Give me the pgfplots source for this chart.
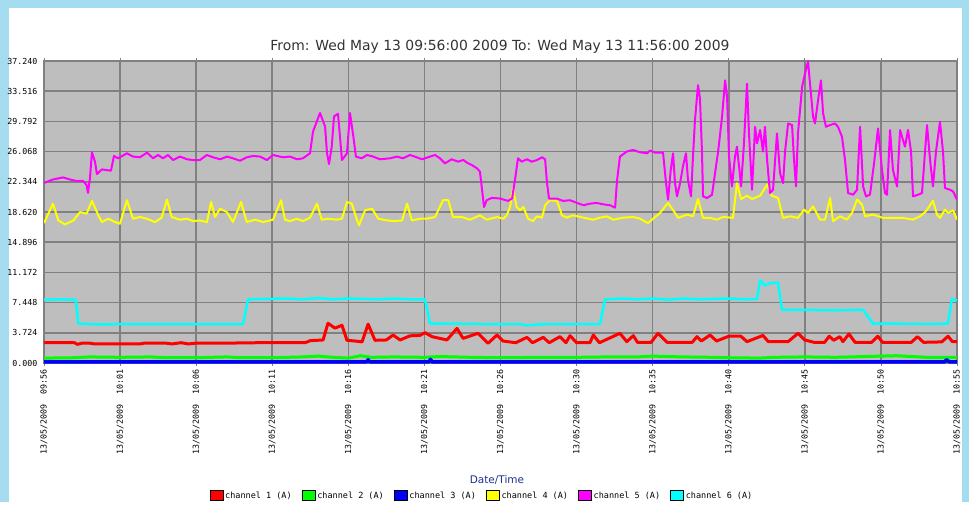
\documentclass[border=0pt]{standalone}
\usepackage{pgfplots}
\pgfplotsset{compat=1.18}
\usepackage{fontspec}
\setmainfont{DejaVu Sans}
\setmonofont{DejaVu Sans Mono}
\definecolor{bgblue}{HTML}{A6DCF0}
\definecolor{plotgray}{HTML}{BEBEBE}
\definecolor{gridgray}{HTML}{808080}
\definecolor{cred}{HTML}{FF0000}
\definecolor{cgreen}{HTML}{00FF00}
\definecolor{cblue}{HTML}{0000FF}
\definecolor{cyellow}{HTML}{FFFF00}
\definecolor{cmag}{HTML}{FF00FF}
\definecolor{ccyan}{HTML}{00FFFF}
\definecolor{navytext}{HTML}{1E3290}
\begin{document}
\begin{tikzpicture}
\fill[bgblue] (0pt,0pt) rectangle (969pt,502pt);
\fill[white] (9pt,0pt) rectangle (962pt,494pt);
\node[font=\fontsize{13.9}{16}\selectfont, text=black!80] at (500pt,455pt) {From: Wed May 13 09:56:00 2009 To: Wed May 13 11:56:00 2009};
\node[font=\fontsize{10.5}{12}\selectfont, text=navytext] at (497pt,22pt) {Date/Time};
\begin{axis}[
  at={(44pt,139pt)}, anchor=south west,
  scale only axis, width=913pt, height=302pt,
  xmin=0, xmax=60, ymin=0, ymax=37.24,
  axis background/.style={fill=plotgray},
  grid=major, major grid style={gridgray, line width=1.6pt},
  axis line style={gridgray, line width=1.6pt},
  xtick={0,5,10,15,20,25,30,35,40,45,50,55,60},
  xticklabels={13/05/2009\ \ 09:56,13/05/2009\ \ 10:01,13/05/2009\ \ 10:06,13/05/2009\ \ 10:11,13/05/2009\ \ 10:16,13/05/2009\ \ 10:21,13/05/2009\ \ 10:26,13/05/2009\ \ 10:30,13/05/2009\ \ 10:35,13/05/2009\ \ 10:40,13/05/2009\ \ 10:45,13/05/2009\ \ 10:50,13/05/2009\ \ 10:55},
  ytick={0,3.724,7.448,11.172,14.896,18.62,22.344,26.068,29.792,33.516,37.24},
  yticklabels={0.000,3.724,7.448,11.172,14.896,18.620,22.344,26.068,29.792,33.516,37.240},
  ticklabel style={font=\ttfamily\fontsize{8.3}{9}\selectfont, text=black},
  xticklabel style={rotate=90, anchor=east},
  major tick length=3pt, tick align=outside,
  ytick style={draw=none}, xtick style={gridgray, line width=0.8pt},
  legend columns=6,
  legend style={at={(0.4797,-0.4404)}, anchor=center, draw=none, fill=none,
    font=\ttfamily\fontsize{8.5}{9}\selectfont,
    /tikz/every even column/.append style={column sep=8pt}},
  legend image code/.code={\fill[#1, draw=none] (0pt,-4.5pt) rectangle (13pt,5.5pt); \draw[black,line width=0.6pt,fill=none] (0pt,-4.5pt) rectangle (13pt,5.5pt);},
  every axis plot/.append style={line join=round, mark=none},
]
% channel 1 (red)
\addplot[cred, line width=3pt] coordinates {
(0,2.5)(2.0,2.5)(2.2,2.3)(2.5,2.45)(3.0,2.45)(3.3,2.35)(6.3,2.35)(6.6,2.45)(8.0,2.45)(8.4,2.35)(9.0,2.5)(9.5,2.35)(10.0,2.45)(12.0,2.45)(14.0,2.5)(16.0,2.5)
(17.15,2.5)(17.5,2.75)(18.34,2.84)(18.66,4.9)(19.12,4.3)(19.58,4.65)(19.91,2.8)(20.5,2.7)(20.9,2.6)(21.3,4.8)(21.75,2.8)(22.5,2.84)
(22.94,3.45)(23.4,2.84)(24.05,3.35)(24.7,3.4)(25.04,3.74)(25.5,3.25)(26.48,2.84)(27.14,4.27)(27.54,3.04)(28.52,3.66)(29.18,2.43)(29.77,3.45)(30.16,2.71)
(31.0,2.5)(31.74,3.16)(32.1,2.5)(32.81,3.16)(33.2,2.5)(33.91,3.25)(34.3,2.5)(34.57,3.37)(35.0,2.5)(35.88,2.5)(36.1,3.45)(36.5,2.5)(37.85,3.66)(38.3,2.63)(38.73,3.37)(39.0,2.55)(39.9,2.55)
(40.35,3.66)(40.94,2.55)(42.6,2.55)(42.91,3.25)(43.2,2.71)(43.77,3.45)(44.2,2.71)(45.0,3.3)(45.8,3.3)(46.2,2.63)(47.25,3.4)(47.6,2.63)(48.9,2.63)(49.55,3.66)(50.0,2.84)(50.6,2.55)
(51.3,2.55)(51.6,3.3)(51.9,2.8)(52.3,3.25)(52.5,2.63)(52.9,3.58)(53.3,2.55)(54.4,2.55)(54.8,3.3)(55.1,2.55)(57.0,2.55)(57.4,3.25)(57.8,2.55)(59.0,2.6)(59.41,3.3)(59.7,2.63)(60,2.63)
};
\addlegendentry{channel 1 (A)}
% channel 2 (green)
\addplot[cgreen, line width=3pt] coordinates {
(0,0.6)(2,0.65)(3,0.75)(5,0.7)(7,0.75)(8,0.65)(10,0.65)(12,0.75)(13,0.65)(15,0.65)(17,0.75)(18,0.85)(19,0.7)(20,0.6)(20.8,0.9)(21.5,0.7)(23,0.75)(25,0.7)
(26,0.8)(28,0.7)(30,0.65)(33,0.7)(35,0.7)(37,0.75)(39,0.75)(40,0.85)(42,0.75)(44,0.7)(45,0.65)(47,0.6)(48,0.7)(50,0.75)(52,0.7)(54,0.8)(55,0.85)(56,0.9)(57,0.8)(58,0.7)(60,0.7)
};
\addlegendentry{channel 2 (A)}
% channel 3 (blue)
\addplot[cblue, line width=3.5pt] coordinates {
(0,0.15)(21.2,0.15)(21.3,0.4)(21.4,0.15)(25.3,0.15)(25.4,0.45)(25.5,0.15)(59.2,0.15)(59.3,0.4)(59.5,0.15)(60,0.15)
};
\addlegendentry{channel 3 (A)}
% channel 4 (yellow)
\addplot[cyellow, line width=2pt] coordinates {
(0,17.25)(0.59,19.65)(0.94,17.58)(1.38,17.09)(1.93,17.58)(2.37,18.62)(2.80,18.41)(3.15,19.99)(3.57,18.21)(3.81,17.38)(4.23,17.79)(4.67,17.38)(4.99,17.17)
(5.45,20.07)(5.85,17.79)(6.31,18.0)(6.75,17.79)(7.29,17.38)(7.73,17.92)(8.08,20.15)(8.39,18.0)(8.94,17.67)(9.40,17.79)(9.79,17.5)(10.25,17.58)(10.71,17.38)
(10.98,19.86)(11.24,18.0)(11.57,19.03)(12.01,18.62)(12.42,17.38)(12.95,19.86)(13.32,17.38)(13.87,17.67)(14.41,17.38)(15.05,17.67)
(15.58,20.07)(15.84,17.67)(16.17,17.5)(16.61,17.79)(17.02,17.5)(17.48,17.92)(17.94,19.65)(18.25,17.67)(18.66,17.79)(19.24,17.67)(19.58,17.79)
(19.91,19.86)(20.22,19.65)(20.57,17.67)(20.70,16.97)(21.10,18.83)(21.56,19.03)(21.97,17.79)(22.54,17.58)(23.07,17.5)(23.53,17.58)(23.86,19.65)
(24.17,17.58)(24.71,17.79)(25.15,17.79)(25.70,18.0)(26.22,20.07)(26.57,20.07)(26.88,18.0)(27.45,18.0)(28.0,17.67)(28.65,18.21)(29.09,17.67)(29.77,18.0)
(30.19,17.79)(30.41,18.21)(30.63,19.24)(30.82,21.52)(31.06,19.24)(31.28,18.83)(31.50,19.24)(31.81,17.79)(32.14,17.5)(32.38,18.08)(32.73,17.92)
(32.93,19.45)(33.25,20.07)(33.71,19.99)(34.04,18.21)(34.35,17.92)(34.77,18.21)(35.45,17.92)(36.08,17.67)(36.54,17.92)(37.00,18.08)(37.41,17.67)
(38.05,17.92)(38.73,18.0)(39.17,17.79)(39.69,17.25)(39.83,17.48)(40.48,18.5)(41.01,19.73)(41.47,18.5)(41.67,17.89)(42.26,18.3)(42.65,18.09)
(42.98,20.22)(43.31,17.89)(43.77,17.89)(44.23,17.68)(44.62,18.01)(45.28,17.89)(45.54,22.18)(45.81,20.22)(46.20,20.63)(46.53,20.22)(47.06,20.63)
(47.52,21.98)(47.84,20.63)(48.24,20.34)(48.57,17.89)(49.03,18.09)(49.55,17.89)(49.95,18.91)(50.21,18.5)(50.54,19.32)(51.00,17.68)(51.33,17.68)
(51.66,20.35)(51.85,17.48)(52.31,18.09)(52.77,17.68)(53.10,18.5)(53.43,20.14)(53.76,19.52)(53.96,18.09)(54.48,18.3)(55.14,17.89)(55.79,17.89)
(56.45,17.89)(57.11,17.68)(57.57,18.09)(57.96,18.7)(58.42,20.0)(58.69,18.3)(58.88,17.89)(59.21,18.91)(59.41,18.5)(59.74,18.83)(60.00,17.68)
};
\addlegendentry{channel 4 (A)}
% channel 5 (magenta)
\addplot[cmag, line width=2pt] coordinates {
(0.00,22.2)(0.59,22.63)(1.25,22.88)(1.71,22.63)(2.17,22.43)(2.56,22.47)(2.80,21.93)(2.89,20.98)(3.02,22.76)(3.15,25.99)(3.35,24.83)(3.48,23.30)
(3.81,23.87)(4.12,23.79)(4.40,23.71)(4.60,25.53)(4.86,25.24)(5.45,25.86)(5.85,25.45)(6.31,25.37)(6.77,25.94)(7.17,25.24)(7.49,25.65)(7.82,25.24)
(8.15,25.65)(8.48,25.03)(8.94,25.45)(9.40,25.12)(9.79,25.03)(10.25,25.03)(10.71,25.65)(11.10,25.37)(11.57,25.12)(12.03,25.45)(12.42,25.24)
(12.88,24.95)(13.34,25.37)(13.74,25.53)(14.20,25.45)(14.65,25.03)(15.05,25.65)(15.51,25.45)(15.71,25.37)(16.17,25.45)(16.63,25.12)(17.02,25.24)
(17.48,25.86)(17.68,28.55)(18.14,30.83)(18.47,29.17)(18.60,25.86)(18.73,24.54)(18.91,26.69)(19.06,30.41)(19.32,30.74)(19.45,27.93)(19.58,25.03)
(19.91,25.86)(20.11,30.83)(20.33,27.93)(20.50,25.45)(20.88,25.24)(21.23,25.65)(21.63,25.45)(22.08,25.12)(22.74,25.24)(23.20,25.45)(23.59,25.24)
(24.05,25.65)(24.49,25.37)(24.84,25.12)(25.37,25.45)(25.70,25.65)(26.02,25.24)(26.35,24.62)(26.79,25.12)(27.21,24.83)(27.56,25.03)(27.80,24.70)
(28.11,24.41)(28.46,24.00)(28.65,23.58)(28.79,21.31)(28.92,19.24)(29.09,20.07)(29.44,20.36)(29.97,20.28)(30.49,19.99)(30.76,20.28)(30.95,22.55)
(31.15,25.24)(31.39,24.83)(31.74,25.12)(32.05,24.83)(32.40,25.03)(32.73,25.37)(32.93,25.12)(33.06,22.14)(33.19,20.28)(33.69,20.28)(34.11,19.99)
(34.57,20.07)(35.03,19.74)(35.46,19.45)(35.88,19.65)(36.32,19.74)(36.74,19.57)(37.20,19.45)(37.53,19.16)(37.66,22.55)(37.85,25.45)(38.29,26.07)
(38.71,26.27)(39.17,25.99)(39.63,25.86)(39.83,26.19)(40.16,25.94)(40.68,25.95)(40.88,22.18)(41.01,20.14)(41.19,23.82)(41.34,25.86)(41.47,22.18)
(41.60,20.55)(41.80,22.18)(41.99,24.23)(42.19,25.86)(42.32,22.59)(42.52,20.55)(42.65,25.45)(42.78,29.95)(42.98,34.25)(43.11,32.61)(43.24,26.07)
(43.31,20.55)(43.57,20.34)(43.90,20.75)(44.10,23.41)(44.30,26.07)(44.56,30.36)(44.76,34.86)(44.89,32.82)(45.02,25.45)(45.21,21.77)(45.41,25.45)
(45.54,26.68)(45.68,24.23)(45.81,21.77)(46.00,27.09)(46.20,34.45)(46.33,28.32)(46.53,21.36)(46.73,29.13)(46.86,27.09)(47.06,28.73)(47.25,26.07)
(47.38,29.13)(47.52,25.05)(47.71,20.96)(47.91,21.36)(48.17,28.32)(48.37,23.41)(48.57,22.18)(48.70,26.07)(48.90,29.54)(49.16,29.34)(49.29,25.05)
(49.42,21.77)(49.55,28.32)(49.82,34.04)(50.01,35.68)(50.21,37.20)(50.34,34.45)(50.54,30.36)(50.67,29.54)(50.87,32.41)(51.06,34.86)(51.20,30.77)
(51.39,29.13)(51.66,29.34)(51.98,29.54)(52.18,29.13)(52.44,27.91)(52.64,25.05)(52.84,20.96)(53.17,20.75)(53.43,21.36)(53.63,29.13)(53.83,21.77)
(54.02,20.55)(54.28,20.75)(54.55,24.64)(54.81,28.93)(55.07,23.82)(55.27,20.96)(55.40,20.75)(55.60,28.73)(55.79,23.82)(56.06,21.77)(56.26,28.73)
(56.45,27.50)(56.58,26.68)(56.78,28.73)(56.98,26.07)(57.11,20.55)(57.44,20.75)(57.70,20.96)(57.90,26.07)(58.03,29.34)(58.23,25.05)(58.42,21.77)
(58.62,26.07)(58.88,29.75)(59.08,26.07)(59.21,21.57)(59.54,21.36)(59.74,21.16)(60.00,20.14)
};
\addlegendentry{channel 5 (A)}
% channel 6 (cyan)
\addplot[ccyan, line width=2.5pt] coordinates {
(0,7.8)(1.0,7.85)(2.0,7.8)(2.1,7.7)(2.25,4.9)(2.5,4.85)(3.0,4.8)(4.0,4.75)(5.0,4.8)(8.0,4.8)(13.08,4.8)(13.41,7.85)(14.5,7.9)(16,7.95)(17,7.85)
(18,8.0)(19,7.85)(20,7.95)(21,7.9)(22,7.85)(23,7.95)(24,7.85)(25.04,7.85)(25.37,4.85)(27,4.85)(29,4.8)(31.28,4.8)(31.7,4.65)(32.14,4.7)(33,4.8)
(36.54,4.8)(36.87,7.85)(38,7.95)(39,7.85)(40,7.95)(41,7.8)(42,7.95)(43,7.85)(44,7.9)(45,7.95)(46,7.85)(46.86,7.9)(47.06,10.2)(47.38,9.55)
(47.71,9.85)(48.24,9.9)(48.5,6.55)(50,6.55)(52,6.5)(53.83,6.55)(54.48,4.85)(56,4.85)(58,4.8)(59.4,4.85)(59.67,7.9)(60,7.7)
};
\addlegendentry{channel 6 (A)}
\end{axis}
\end{tikzpicture}
\end{document}
